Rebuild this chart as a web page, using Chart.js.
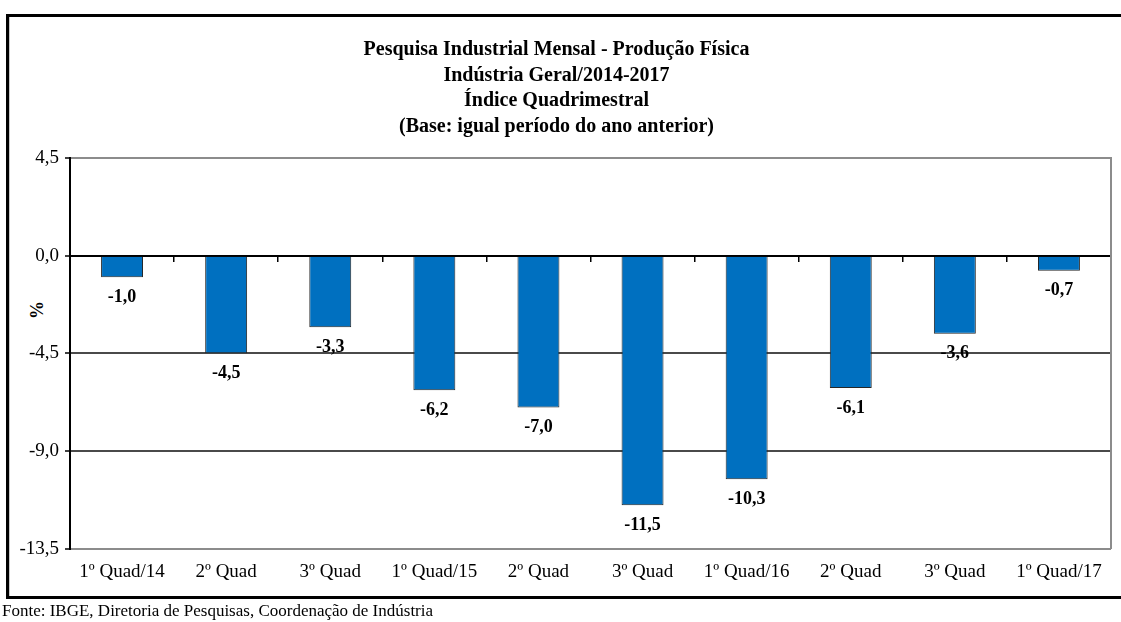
<!DOCTYPE html>
<html><head><meta charset="utf-8">
<script src="https://cdn.jsdelivr.net/npm/chart.js@4/dist/chart.umd.min.js"></script>
<style>
html,body{margin:0;padding:0;background:#fff;}
#wrap{position:relative;width:1121px;height:622px;overflow:hidden;}
#frame{position:absolute;left:6px;top:14px;width:1130px;height:579px;border-left:3px solid #000;border-top:3px solid #000;border-bottom:3px solid #000;}
#inner{position:absolute;left:9px;top:17px;width:1px;height:579px;background:#c8c8c8;}
#pct{position:absolute;left:27px;top:300px;width:20px;height:20px;line-height:20px;text-align:center;transform:rotate(-90deg);font:bold 18px "Liberation Serif";color:#000;}
canvas{position:absolute;left:0;top:0;}
</style></head>
<body><div id="wrap"><div id="frame"></div><div id="inner"></div><div id="pct">%</div><canvas id="c" width="1121" height="622"></canvas></div>
<script>
const titleLines = ["Pesquisa Industrial Mensal - Produção Física","Indústria Geral/2014-2017","Índice Quadrimestral","(Base: igual período do ano anterior)"];
const categories = ["1º Quad/14","2º Quad","3º Quad","1º Quad/15","2º Quad","3º Quad","1º Quad/16","2º Quad","3º Quad","1º Quad/17"];
const values = [-1.0,-4.5,-3.3,-6.2,-7.0,-11.5,-10.3,-6.1,-3.6,-0.7];
const yTicks = [4.5,0,-4.5,-9,-13.5];
const footnote = "Fonte: IBGE, Diretoria de Pesquisas, Coordenação de Indústria";

const SERIF = '"Liberation Serif", serif';
const fmt = v => Number(v).toFixed(1).replace('.', ',');

const barLabels = {
  id:'barLabels',
  afterDatasetsDraw(chart){
    const ctx = chart.ctx;
    const meta = chart.getDatasetMeta(0);
    ctx.save();
    ctx.font = 'bold 18px ' + SERIF;
    ctx.fillStyle = '#000';
    ctx.textAlign = 'center';
    ctx.textBaseline = 'middle';
    meta.data.forEach((bar,i)=>{
      ctx.fillText(fmt(values[i]), bar.x, bar.y + 20);
    });
    ctx.restore();
  }
};

new Chart(document.getElementById('c'), {
  type:'bar',
  data:{
    labels: categories,
    datasets:[{
      data: values,
      backgroundColor:'#0070C0',
      borderColor:'#262626',
      borderWidth:1,
      barPercentage:0.403,
      categoryPercentage:1.0
    }]
  },
  options:{
    responsive:false,
    animation:false,
    layout:{padding:{left:2,right:10,top:0,bottom:0}},
    plugins:{
      legend:{display:false},
      tooltip:{enabled:false},
      title:{display:true,text:titleLines,color:'#000',
        font:{family:SERIF,size:20,weight:'bold',lineHeight:1.28},
        padding:{top:37,bottom:18.6}},
      subtitle:{display:true,text:footnote,position:'bottom',align:'start',color:'#000',
        font:{family:SERIF,size:17,lineHeight:1.2},padding:{top:2,bottom:0}}
    },
    scales:{
      x:{
        grid:{display:false,drawTicks:false},
        border:{display:false},
        ticks:{font:{family:SERIF,size:19},color:'#000',padding:12,maxRotation:0,autoSkip:false},
        afterFit(s){ s.height = 51; }
      },
      x2:{
        type:'category',
        labels: categories,
        position:{y:0},
        offset:true,
        grid:{offset:true,drawOnChartArea:false,color:'#000',tickLength:5,lineWidth:1.5},
        ticks:{display:false},
        border:{color:'#000',width:2}
      },
      y:{
        min:-13.5,max:4.5,
        afterBuildTicks(s){ s.ticks = yTicks.map(v=>({value:v})); },
        ticks:{callback:v=>fmt(v),font:{family:SERIF,size:19},color:'#000',padding:6},
        grid:{
          color:c=>{const v=c.tick&&c.tick.value; if(v===0) return '#000'; if(v===4.5||v===-13.5) return '#8c8c8c'; return '#4a4a4a';},
          lineWidth:2,
          tickColor:'#000',tickWidth:1.5,tickLength:5
        },
        border:{color:'#000',width:2},
        afterFit(s){ s.width = 68; }
      },
      yR:{
        position:'right',
        display:true,
        ticks:{display:false},
        grid:{display:false,drawTicks:false},
        border:{color:'#8c8c8c',width:2},
        afterFit(s){ s.width = 0; }
      }
    }
  },
  plugins:[barLabels]
});
</script>
</body></html>
